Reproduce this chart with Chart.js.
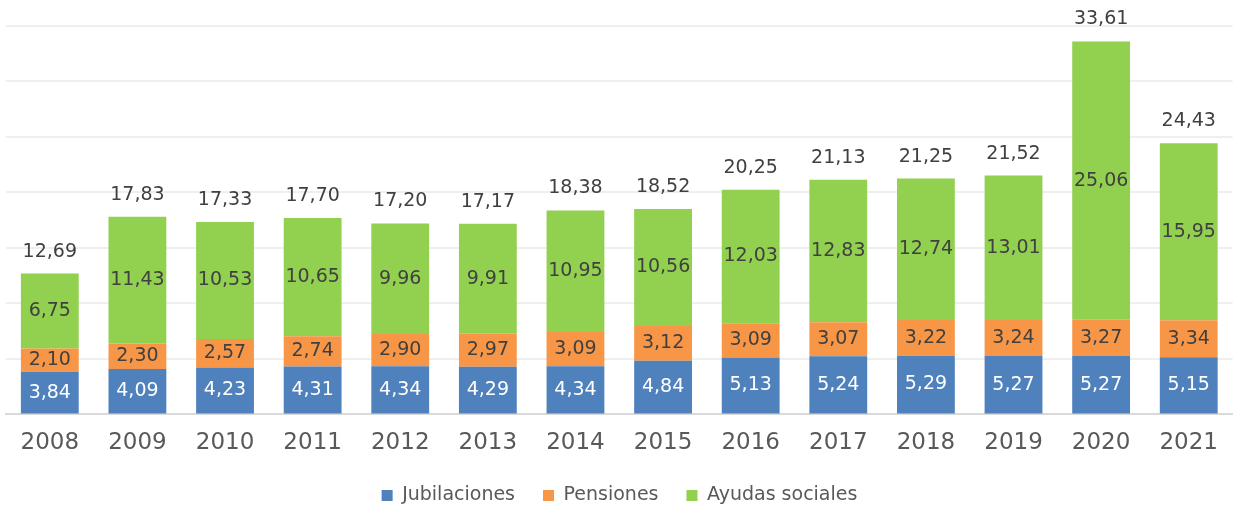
<!DOCTYPE html>
<html>
<head>
<meta charset="utf-8">
<script src="https://cdn.jsdelivr.net/npm/chart.js@4"></script>
<style>
  html, body { margin: 0; padding: 0; background: #fff; }
  #wrap { width: 1233px; height: 506px; }
</style>
</head>
<body>
<div id="wrap"><canvas id="chart"></canvas></div>
<script>
const years = ['2008', '2009', '2010', '2011', '2012', '2013', '2014', '2015', '2016', '2017', '2018', '2019', '2020', '2021'];
const jubilaciones = [3.84, 4.09, 4.23, 4.31, 4.34, 4.29, 4.34, 4.84, 5.13, 5.24, 5.29, 5.27, 5.27, 5.15];
const pensiones = [2.10, 2.30, 2.57, 2.74, 2.90, 2.97, 3.09, 3.12, 3.09, 3.07, 3.22, 3.24, 3.27, 3.34];
const ayudas = [6.75, 11.43, 10.53, 10.65, 9.96, 9.91, 10.95, 10.56, 12.03, 12.83, 12.74, 13.01, 25.06, 15.95];
const totals = [12.69, 17.83, 17.33, 17.70, 17.20, 17.17, 18.38, 18.52, 20.25, 21.13, 21.25, 21.52, 33.61, 24.43];

const fontFamily = '"DejaVu Sans", sans-serif';
const fmt = v => v.toFixed(2).replace('.', ',');

// draws the value labels inside each segment and the total over each bar
const labelPlugin = {
    id: 'labels',
    beforeInit(chart) {
        // keep the legend short so the plot reaches down like the original
        const legend = chart.legend;
        if (legend) {
            const fit = legend.fit;
            legend.fit = function () {
                fit.call(this);
                this.height = 34;
            };
            legend.draw = function () {
                if (!this.options.display) return;
                this.ctx.save();
                this.ctx.translate(0, -14);
                this._draw();
                this.ctx.restore();
            };
        }
    },
    afterDatasetsDraw(chart) {
        const ctx = chart.ctx;
        ctx.save();
        ctx.textAlign = 'center';
        ctx.textBaseline = 'middle';
        ctx.font = '19px ' + fontFamily;
        chart.data.datasets.forEach((ds, i) => {
            const meta = chart.getDatasetMeta(i);
            meta.data.forEach((bar, j) => {
                const mid = (bar.y + bar.base) / 2;
                ctx.fillStyle = i === 0 ? '#ffffff' : '#404040';
                ctx.fillText(fmt(ds.data[j]), bar.x, mid);
            });
        });
        const top = chart.getDatasetMeta(chart.data.datasets.length - 1);
        ctx.fillStyle = '#404040';
        top.data.forEach((bar, j) => {
            ctx.fillText(fmt(totals[j]), bar.x, bar.y - 22);
        });
        ctx.restore();
    }
};

new Chart(document.getElementById('chart'), {
    type: 'bar',
    data: {
        labels: years,
        datasets: [
            { label: 'Jubilaciones', data: jubilaciones, backgroundColor: '#4f81bd' },
            { label: 'Pensiones', data: pensiones, backgroundColor: '#f79646' },
            { label: 'Ayudas sociales', data: ayudas, backgroundColor: '#92d050' }
        ]
    },
    options: {
        responsive: true,
        maintainAspectRatio: false,
        animation: false,
        layout: { padding: { left: 6, right: 0, top: 26, bottom: 0 } },
        datasets: { bar: { categoryPercentage: 0.66, barPercentage: 1 } },
        plugins: {
            legend: {
                position: 'bottom',
                labels: {
                    boxWidth: 11,
                    boxHeight: 11,
                    padding: 28,
                    color: '#595959',
                    font: { family: fontFamily, size: 19 }
                }
            },
            tooltip: { enabled: false }
        },
        scales: {
            x: {
                stacked: true,
                grid: { display: false, drawTicks: false },
                border: { color: '#d9d9d9', width: 2 },
                ticks: { color: '#595959', font: { family: fontFamily, size: 23 }, padding: 15 }
            },
            y: {
                stacked: true,
                min: 0,
                max: 35,
                ticks: { display: false, stepSize: 5 },
                border: { display: false },
                grid: { color: '#efefef', lineWidth: 2, drawTicks: false }
            }
        }
    },
    plugins: [labelPlugin]
});
</script>
</body>
</html>
